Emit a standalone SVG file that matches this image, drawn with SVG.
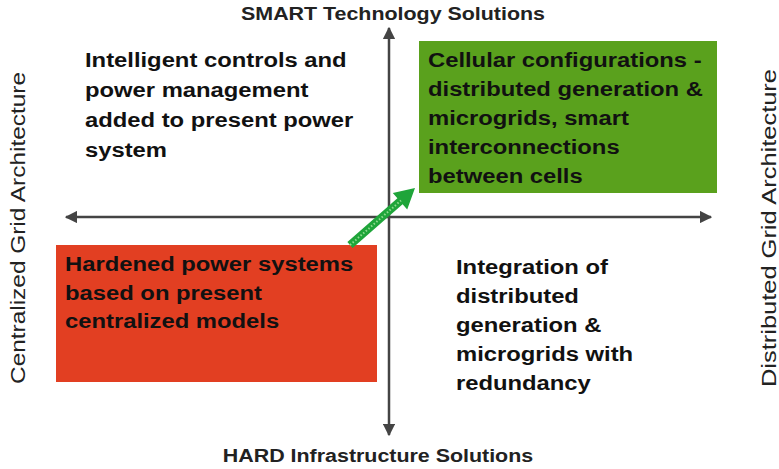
<svg xmlns="http://www.w3.org/2000/svg" width="779" height="469" viewBox="0 0 779 469">
<defs>
<style>
.t{font-family:"Liberation Sans",Arial,sans-serif;font-weight:bold;font-size:20px;fill:#111}
.ax{font-family:"Liberation Sans",Arial,sans-serif;font-weight:bold;font-size:18px;fill:#222}
.side{font-family:"Liberation Sans",Arial,sans-serif;font-size:20px;fill:#222}
.axis{stroke:#444;stroke-width:2.5;fill:none}
</style>
<marker id="ah" viewBox="0 0 10 10" refX="9" refY="5" markerWidth="5" markerHeight="5" orient="auto-start-reverse" markerUnits="strokeWidth">
<path d="M0,0 L10,5 L0,10 z" fill="#444"/>
</marker>
</defs>
<rect width="779" height="469" fill="#fff"/>

<g id="connectors">
<line class="axis" x1="66" y1="217" x2="711" y2="217" marker-start="url(#ah)" marker-end="url(#ah)"/>
<line class="axis" x1="389" y1="28" x2="389" y2="435" marker-start="url(#ah)" marker-end="url(#ah)"/>
</g>

<g id="node-hardened">
<rect x="56" y="245" width="321" height="137" fill="#E23F22"/>
<g transform="translate(65,0) scale(1.19,1)">
<text class="t" x="0" y="271">Hardened power systems</text>
<text class="t" x="0" y="300">based on present</text>
<text class="t" x="0" y="328">centralized models</text>
</g>
</g>

<g id="node-cellular">
<rect x="419" y="41" width="298" height="152" fill="#5AA11D"/>
<g transform="translate(428,0) scale(1.19,1)">
<text class="t" x="0" y="67">Cellular configurations -</text>
<text class="t" x="0" y="96">distributed generation &amp;</text>
<text class="t" x="0" y="125">microgrids, smart</text>
<text class="t" x="0" y="154">interconnections</text>
<text class="t" x="0" y="183">between cells</text>
</g>
</g>

<g id="node-intelligent">
<g transform="translate(85,0) scale(1.19,1)">
<text class="t" x="0" y="67">Intelligent controls and</text>
<text class="t" x="0" y="97">power management</text>
<text class="t" x="0" y="127">added to present power</text>
<text class="t" x="0" y="157">system</text>
</g>
</g>

<g id="node-integration">
<g transform="translate(456,0) scale(1.19,1)">
<text class="t" x="0" y="274">Integration of</text>
<text class="t" x="0" y="303">distributed</text>
<text class="t" x="0" y="332">generation &amp;</text>
<text class="t" x="0" y="361">microgrids with</text>
<text class="t" x="0" y="390">redundancy</text>
</g>
</g>

<g id="transition-arrow">
<polygon points="352.6,248 402.6,204.2 407.2,209.5 415,188 392.8,192.9 397.4,198.2 347.4,242" fill="#1FA53A"/>
<line x1="350" y1="245" x2="401" y2="200.5" stroke="#8EDB8E" stroke-width="2" stroke-dasharray="1.5 2"/>
</g>

<g id="label-top">
<g transform="translate(393,0) scale(1.19,1)">
<text class="ax" x="0" y="20" text-anchor="middle">SMART Technology Solutions</text>
</g>
</g>
<g id="label-bottom">
<g transform="translate(378,0) scale(1.19,1)">
<text class="ax" x="0" y="462" text-anchor="middle">HARD Infrastructure Solutions</text>
</g>
</g>
<g id="label-left">
<text class="side" transform="translate(25,228) rotate(-90)" x="0" y="0" text-anchor="middle" textLength="312" lengthAdjust="spacingAndGlyphs">Centralized Grid Architecture</text>
</g>
<g id="label-right">
<text class="side" transform="translate(776,228) rotate(-90)" x="0" y="0" text-anchor="middle" textLength="318" lengthAdjust="spacingAndGlyphs">Distributed Grid Architecture</text>
</g>
</svg>
